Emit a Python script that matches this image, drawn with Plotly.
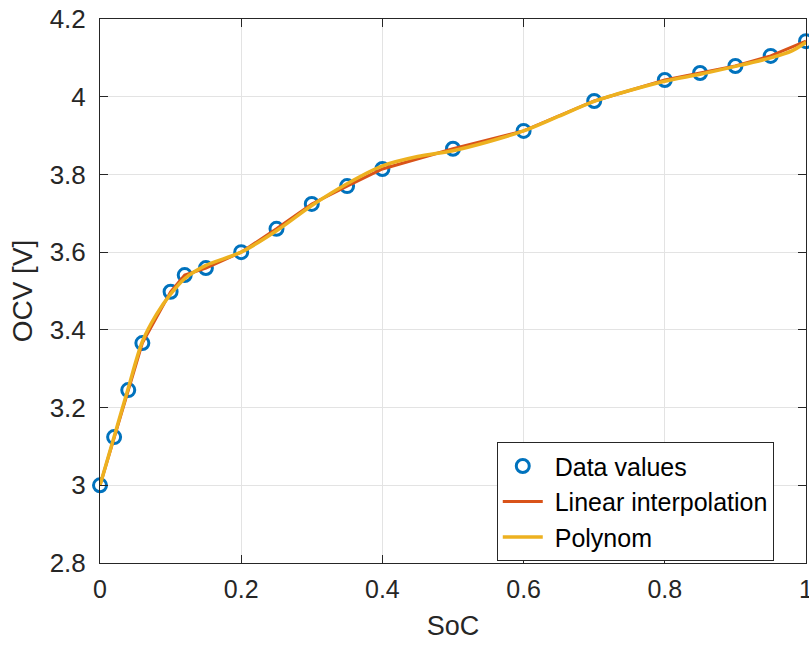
import plotly.graph_objects as go

soc = [0, 0.02, 0.04, 0.06, 0.1, 0.12, 0.15, 0.2, 0.25, 0.3, 0.35, 0.4,
       0.5, 0.6, 0.7, 0.8, 0.85, 0.9, 0.95, 1.0]
ocv = [3.0, 3.124, 3.245, 3.366, 3.498, 3.541, 3.559, 3.600, 3.660, 3.724,
       3.770, 3.814, 3.866, 3.912, 3.989, 4.043, 4.061, 4.079, 4.105, 4.143]

poly_soc = [0, 0.02, 0.04, 0.06, 0.08, 0.1, 0.12, 0.15, 0.2, 0.25, 0.3, 0.35,
            0.4, 0.45, 0.5, 0.55, 0.6, 0.65, 0.7, 0.75, 0.8, 0.85, 0.9, 0.95,
            0.98, 1.0]
poly_ocv = [3.0, 3.125, 3.25, 3.37, 3.44, 3.492, 3.532, 3.566, 3.600, 3.655,
            3.720, 3.776, 3.822, 3.846, 3.861, 3.884, 3.912, 3.950, 3.988,
            4.016, 4.040, 4.058, 4.078, 4.100, 4.118, 4.140]

xticks = [0, 0.2, 0.4, 0.6, 0.8, 1]
yticks = [2.8, 3, 3.2, 3.4, 3.6, 3.8, 4, 4.2]

fig = go.Figure()
fig.add_trace(go.Scatter(
    x=soc, y=ocv, mode="markers", name=" Data values", cliponaxis=False,
    marker=dict(symbol="circle-open", size=13, color="#0072BD",
                line=dict(width=3, color="#0072BD"))))
fig.add_trace(go.Scatter(
    x=soc, y=ocv, mode="lines", name=" Linear interpolation",
    line=dict(color="#D95319", width=3)))
fig.add_trace(go.Scatter(
    x=poly_soc, y=poly_ocv, mode="lines", name=" Polynom",
    line=dict(color="#EDB120", width=3.5, shape="spline", smoothing=0.8)))

axis_common = dict(
    showgrid=True, gridcolor="#e3e3e3", gridwidth=1,
    showline=True, linecolor="#262626", linewidth=1, mirror="allticks",
    ticks="inside", ticklen=8, tickcolor="#262626",
    zeroline=False, automargin=False, ticklabeloverflow="allow",
)

fig.update_layout(
    width=809, height=648,
    margin=dict(l=100, r=3, t=19, b=85),
    paper_bgcolor="white", plot_bgcolor="white",
    font=dict(family="Liberation Sans, Arial, sans-serif", color="#262626"),
    xaxis=dict(range=[0, 1], tickvals=xticks,
               ticktext=[("%g" % v) for v in xticks],
               tickfont=dict(size=25),
               ticklabelstandoff=4,
               title=dict(text="SoC", font=dict(size=27), standoff=14),
               **axis_common),
    yaxis=dict(range=[2.8, 4.2], tickvals=yticks,
               ticktext=[("%g" % v) for v in yticks],
               tickfont=dict(size=26),
               ticklabelstandoff=8,
               title=dict(text="OCV [V]", font=dict(size=28), standoff=8),
               **axis_common),
    legend=dict(x=0.562, y=0.222, xanchor="left", yanchor="top",
                bgcolor="white", bordercolor="#262626", borderwidth=1,
                font=dict(size=25, color="black"), tracegroupgap=0,
                itemwidth=40, entrywidth=230, entrywidthmode="pixels"),
    showlegend=True,
)

fig.write_html(
    "out.html",
    config={"displayModeBar": False},
    post_script="document.body.style.margin='0';document.body.style.overflow='hidden';",
)
